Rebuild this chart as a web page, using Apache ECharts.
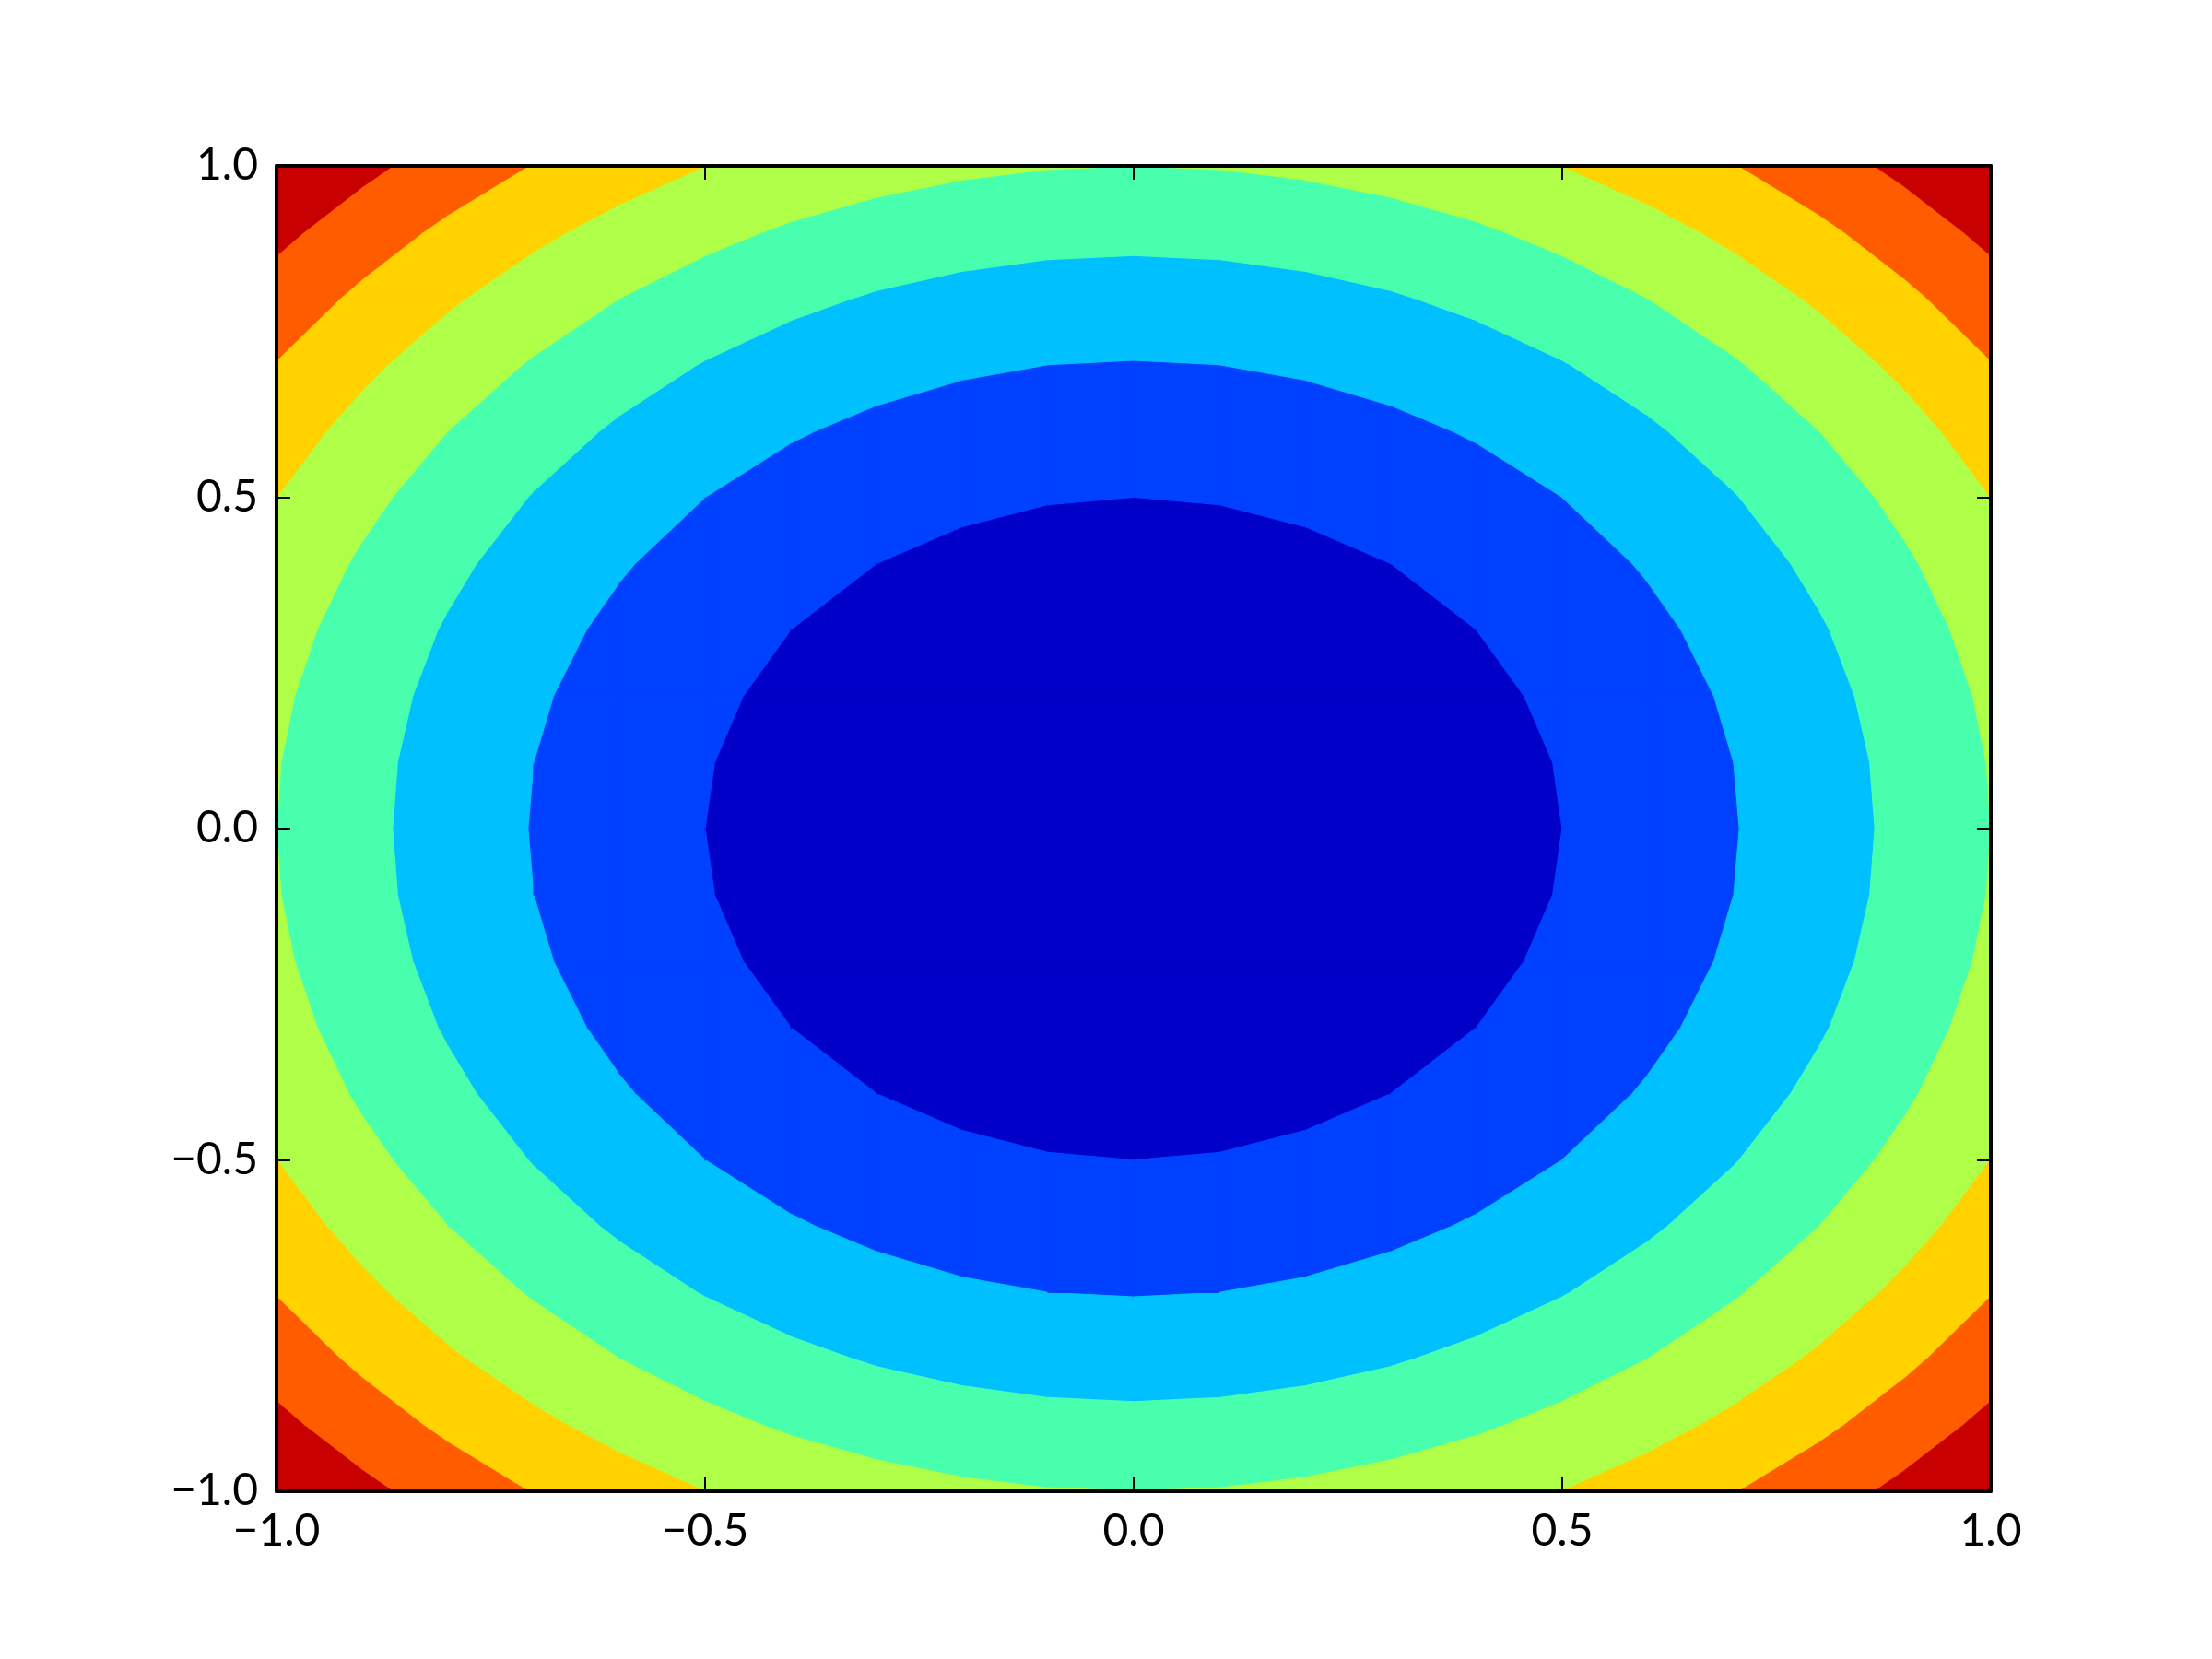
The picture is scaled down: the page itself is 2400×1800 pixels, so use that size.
<!DOCTYPE html>
<html>
<head>
<meta charset="utf-8">
<script src="https://cdn.jsdelivr.net/npm/echarts@6/dist/echarts.min.js"></script>
<style>
  html, body { margin: 0; padding: 0; background: #fff; }
  #chart { width: 2400px; height: 1800px; }
</style>
</head>
<body>
<div id="chart"></div>
<script>
  // grid coordinates
  const xs = [-1.0, -0.9, -0.8, -0.7, -0.6, -0.5, -0.4, -0.3, -0.2, -0.1, 0.0, 0.1, 0.2, 0.3, 0.4, 0.5, 0.6, 0.7, 0.8, 0.9, 1.0]
  const ys = [-1.0, -0.9, -0.8, -0.7, -0.6, -0.5, -0.4, -0.3, -0.2, -0.1, 0.0, 0.1, 0.2, 0.3, 0.4, 0.5, 0.6, 0.7, 0.8, 0.9, 1.0]
  // z values, one row per y (bottom to top)
  const zGrid = [
    [2.00, 1.81, 1.64, 1.49, 1.36, 1.25, 1.16, 1.09, 1.04, 1.01, 1.00, 1.01, 1.04, 1.09, 1.16, 1.25, 1.36, 1.49, 1.64, 1.81, 2.00],
    [1.81, 1.62, 1.45, 1.30, 1.17, 1.06, 0.97, 0.90, 0.85, 0.82, 0.81, 0.82, 0.85, 0.90, 0.97, 1.06, 1.17, 1.30, 1.45, 1.62, 1.81],
    [1.64, 1.45, 1.28, 1.13, 1.00, 0.89, 0.80, 0.73, 0.68, 0.65, 0.64, 0.65, 0.68, 0.73, 0.80, 0.89, 1.00, 1.13, 1.28, 1.45, 1.64],
    [1.49, 1.30, 1.13, 0.98, 0.85, 0.74, 0.65, 0.58, 0.53, 0.50, 0.49, 0.50, 0.53, 0.58, 0.65, 0.74, 0.85, 0.98, 1.13, 1.30, 1.49],
    [1.36, 1.17, 1.00, 0.85, 0.72, 0.61, 0.52, 0.45, 0.40, 0.37, 0.36, 0.37, 0.40, 0.45, 0.52, 0.61, 0.72, 0.85, 1.00, 1.17, 1.36],
    [1.25, 1.06, 0.89, 0.74, 0.61, 0.50, 0.41, 0.34, 0.29, 0.26, 0.25, 0.26, 0.29, 0.34, 0.41, 0.50, 0.61, 0.74, 0.89, 1.06, 1.25],
    [1.16, 0.97, 0.80, 0.65, 0.52, 0.41, 0.32, 0.25, 0.20, 0.17, 0.16, 0.17, 0.20, 0.25, 0.32, 0.41, 0.52, 0.65, 0.80, 0.97, 1.16],
    [1.09, 0.90, 0.73, 0.58, 0.45, 0.34, 0.25, 0.18, 0.13, 0.10, 0.09, 0.10, 0.13, 0.18, 0.25, 0.34, 0.45, 0.58, 0.73, 0.90, 1.09],
    [1.04, 0.85, 0.68, 0.53, 0.40, 0.29, 0.20, 0.13, 0.08, 0.05, 0.04, 0.05, 0.08, 0.13, 0.20, 0.29, 0.40, 0.53, 0.68, 0.85, 1.04],
    [1.01, 0.82, 0.65, 0.50, 0.37, 0.26, 0.17, 0.10, 0.05, 0.02, 0.01, 0.02, 0.05, 0.10, 0.17, 0.26, 0.37, 0.50, 0.65, 0.82, 1.01],
    [1.00, 0.81, 0.64, 0.49, 0.36, 0.25, 0.16, 0.09, 0.04, 0.01, 0.00, 0.01, 0.04, 0.09, 0.16, 0.25, 0.36, 0.49, 0.64, 0.81, 1.00],
    [1.01, 0.82, 0.65, 0.50, 0.37, 0.26, 0.17, 0.10, 0.05, 0.02, 0.01, 0.02, 0.05, 0.10, 0.17, 0.26, 0.37, 0.50, 0.65, 0.82, 1.01],
    [1.04, 0.85, 0.68, 0.53, 0.40, 0.29, 0.20, 0.13, 0.08, 0.05, 0.04, 0.05, 0.08, 0.13, 0.20, 0.29, 0.40, 0.53, 0.68, 0.85, 1.04],
    [1.09, 0.90, 0.73, 0.58, 0.45, 0.34, 0.25, 0.18, 0.13, 0.10, 0.09, 0.10, 0.13, 0.18, 0.25, 0.34, 0.45, 0.58, 0.73, 0.90, 1.09],
    [1.16, 0.97, 0.80, 0.65, 0.52, 0.41, 0.32, 0.25, 0.20, 0.17, 0.16, 0.17, 0.20, 0.25, 0.32, 0.41, 0.52, 0.65, 0.80, 0.97, 1.16],
    [1.25, 1.06, 0.89, 0.74, 0.61, 0.50, 0.41, 0.34, 0.29, 0.26, 0.25, 0.26, 0.29, 0.34, 0.41, 0.50, 0.61, 0.74, 0.89, 1.06, 1.25],
    [1.36, 1.17, 1.00, 0.85, 0.72, 0.61, 0.52, 0.45, 0.40, 0.37, 0.36, 0.37, 0.40, 0.45, 0.52, 0.61, 0.72, 0.85, 1.00, 1.17, 1.36],
    [1.49, 1.30, 1.13, 0.98, 0.85, 0.74, 0.65, 0.58, 0.53, 0.50, 0.49, 0.50, 0.53, 0.58, 0.65, 0.74, 0.85, 0.98, 1.13, 1.30, 1.49],
    [1.64, 1.45, 1.28, 1.13, 1.00, 0.89, 0.80, 0.73, 0.68, 0.65, 0.64, 0.65, 0.68, 0.73, 0.80, 0.89, 1.00, 1.13, 1.28, 1.45, 1.64],
    [1.81, 1.62, 1.45, 1.30, 1.17, 1.06, 0.97, 0.90, 0.85, 0.82, 0.81, 0.82, 0.85, 0.90, 0.97, 1.06, 1.17, 1.30, 1.45, 1.62, 1.81],
    [2.00, 1.81, 1.64, 1.49, 1.36, 1.25, 1.16, 1.09, 1.04, 1.01, 1.00, 1.01, 1.04, 1.09, 1.16, 1.25, 1.36, 1.49, 1.64, 1.81, 2.00]
  ]
  // contour levels and band colours (jet)
  const levels = [0.0, 0.25, 0.5, 0.75, 1.0, 1.25, 1.5, 1.75, 2.0]
  const bandColors = ['#0000c8', '#0040ff', '#00c0ff', '#48ffae', '#afff48', '#ffd200', '#ff5c00', '#c80000']

  const tickFont = 'Lato, "Liberation Sans", sans-serif'
  const fmt = v => v.toFixed(1).replace('-', '\u2212')

  // one item per grid cell: corners and their z values
  const cells = []
  for (let j = 0; j < ys.length - 1; j++) {
    for (let i = 0; i < xs.length - 1; i++) {
      cells.push([xs[i], ys[j], xs[i + 1], ys[j + 1],
        zGrid[j][i], zGrid[j][i + 1], zGrid[j + 1][i + 1], zGrid[j + 1][i]])
    }
  }

  // clip polygon of [x, y, z] points against z >= lev (above) or z <= lev
  function clip (poly, lev, above) {
    const out = []
    for (let k = 0; k < poly.length; k++) {
      const a = poly[k]
      const b = poly[(k + 1) % poly.length]
      const ina = above ? a[2] >= lev : a[2] <= lev
      const inb = above ? b[2] >= lev : b[2] <= lev
      if (ina) out.push(a)
      if (ina !== inb) {
        const t = (lev - a[2]) / (b[2] - a[2])
        out.push([a[0] + t * (b[0] - a[0]), a[1] + t * (b[1] - a[1]), lev])
      }
    }
    return out
  }

  function renderCell (params, api) {
    const x0 = api.value(0), y0 = api.value(1), x1 = api.value(2), y1 = api.value(3)
    const quad = [
      [x0, y0, api.value(4)],
      [x1, y0, api.value(5)],
      [x1, y1, api.value(6)],
      [x0, y1, api.value(7)]
    ]
    const children = []
    for (let k = 0; k < bandColors.length; k++) {
      let p = clip(quad, levels[k], true)
      if (p.length < 3) continue
      p = clip(p, levels[k + 1], false)
      if (p.length < 3) continue
      children.push({
        type: 'polygon',
        shape: { points: p.map(q => api.coord([q[0], q[1]])) },
        style: { fill: bandColors[k], stroke: bandColors[k], lineWidth: 1.2 }
      })
    }
    return { type: 'group', children: children }
  }

  const chart = echarts.init(document.getElementById('chart'))
  const axisCommon = {
    type: 'value',
    min: -1,
    max: 1,
    interval: 0.5,
    z: 10,
    splitLine: { show: false },
    axisLine: { show: true, onZero: false, lineStyle: { color: '#000', width: 4 } },
    axisTick: { show: true, inside: true, length: 15, lineStyle: { color: '#000', width: 2 } }
  }
  chart.setOption({
    animation: false,
    backgroundColor: '#fff',
    grid: { left: 300, right: 240, top: 180, bottom: 182 },
    xAxis: [
      Object.assign({}, axisCommon, {
        position: 'bottom',
        axisLabel: { show: true, margin: 20, color: '#000', fontSize: 48, fontFamily: tickFont, formatter: fmt }
      }),
      Object.assign({}, axisCommon, { position: 'top', axisLabel: { show: false } })
    ],
    yAxis: [
      Object.assign({}, axisCommon, {
        position: 'left',
        axisLabel: { show: true, margin: 20, color: '#000', fontSize: 48, fontFamily: tickFont, formatter: fmt }
      }),
      Object.assign({}, axisCommon, { position: 'right', axisLabel: { show: false } })
    ],
    series: [{
      type: 'custom',
      silent: true,
      clip: true,
      renderItem: renderCell,
      encode: { x: [0, 2], y: [1, 3] },
      data: cells,
      z: 1
    }]
  })
</script>
</body>
</html>
